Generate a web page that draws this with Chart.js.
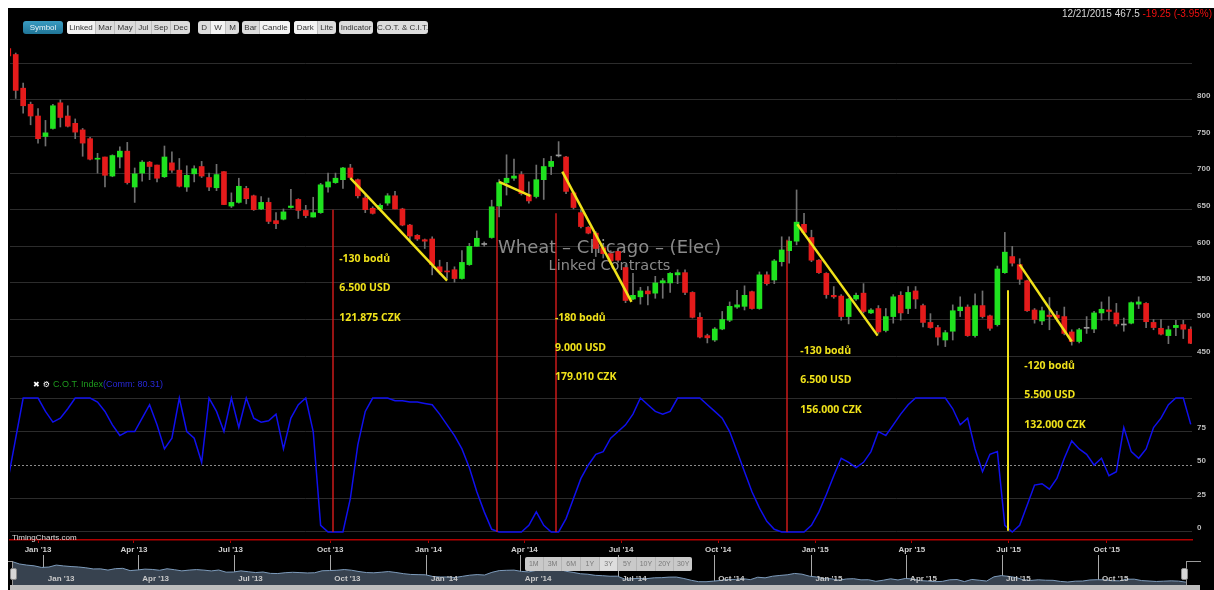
<!DOCTYPE html>
<html>
<head>
<meta charset="utf-8">
<title>Wheat - Chicago - (Elec)</title>
<script src="https://cdn.jsdelivr.net/npm/chart.js@4.4.1/dist/chart.umd.min.js"></script>
<style>
  body { margin: 8px; background: #fff; overflow: hidden; }
  #screen { position: absolute; left: 8px; top: 8px; width: 1206px; height: 582px; background: #000; overflow: hidden; font-family: "Liberation Sans", Arial, sans-serif; }
  canvas { position: absolute; left: 0; }
  #priceChart { top: 0; }
  #navChart { top: 547px; }
  .tb { position: absolute; top: 13px; height: 13px; display: flex; border-radius: 3px; overflow: hidden; background: #dcdcdc; }
  .tb span { flex: 1 1 auto; text-align: center; font-size: 8px; line-height: 13px; color: #333; border-left: 1px solid #bdbdbd; white-space: nowrap; }
  .tb span:first-child { border-left: none; }
  .tb span.on { background: #f3f3f3; }
  .tb.sym { background: linear-gradient(#3a9cc2, #1f7597); }
  .tb.sym span { color: #e8f4fa; }
  #info { position: absolute; right: 2px; top: 0; font-size: 10px; color: #d8d8d8; white-space: nowrap; }
  #info .chg { color: #f01010; }
  #legend { position: absolute; left: 25px; top: 371px; font-size: 9px; line-height: 10px; white-space: nowrap; }
  #legend .ic { color: #fff; font-family: "DejaVu Sans", sans-serif; font-size: 8px; margin-right: 3px; }
  #brand { position: absolute; left: 4px; top: 525px; font-size: 8px; color: #ddd; }
  #ranges { position: absolute; left: 517px; top: 549px; width: 167px; height: 14px; display: flex; background: #c9c9c9; border-radius: 2px; overflow: hidden; }
  #ranges span { flex: 1; text-align: center; font-size: 7px; line-height: 14px; color: #7a7a7a; border-left: 1px solid #b4b4b4; }
  #ranges span:first-child { border-left: none; }
  #ranges span.on { background: #dedede; }
  #scroll { position: absolute; left: 2px; top: 577px; width: 1190px; height: 5px; background: #bdbdbd; }
  .handle { position: absolute; top: 560px; width: 5px; height: 10px; background: #d6d6d6; border: 1px solid #8a8a8a; border-radius: 2px; }
  .navedge { position: absolute; top: 553px; height: 24px; border-top: 1px solid #9a9a9a; }
</style>
</head>
<body>
<div id="screen">
  <canvas id="priceChart" width="1206" height="548"></canvas>
  <canvas id="navChart" width="1206" height="30"></canvas>

  <div class="tb sym" style="left:15px;width:40px"><span>Symbol</span></div>
  <div class="tb" style="left:59px;width:123px"><span class="on">Linked</span><span>Mar</span><span>May</span><span>Jul</span><span>Sep</span><span>Dec</span></div>
  <div class="tb" style="left:190px;width:41px"><span>D</span><span class="on">W</span><span>M</span></div>
  <div class="tb" style="left:234px;width:48px"><span>Bar</span><span class="on">Candle</span></div>
  <div class="tb" style="left:286px;width:42px"><span class="on">Dark</span><span>Lite</span></div>
  <div class="tb" style="left:331px;width:34px"><span>Indicator</span></div>
  <div class="tb" style="left:369px;width:51px"><span>C.O.T. &amp; C.I.T.</span></div>

  <div id="info">12/21/2015 467.5 <span class="chg">-19.25 (-3.95%)</span></div>
  <div id="legend"><span class="ic">✖</span><span class="ic">⚙</span><span style="color:#1e9a1e">C.O.T. Index</span><span style="color:#2828d8">(Comm: 80.31)</span></div>
  <div id="brand">TimingCharts.com</div>

  <div id="ranges"><span>1M</span><span>3M</span><span>6M</span><span>1Y</span><span class="on">3Y</span><span>5Y</span><span>10Y</span><span>20Y</span><span>30Y</span></div>
  <div class="navedge" style="left:0;width:4px;border-right:1px solid #9a9a9a"></div>
  <div class="navedge" style="left:1178px;width:14px;border-left:1px solid #9a9a9a"></div>
  <div class="handle" style="left:2px"></div>
  <div class="handle" style="left:1173px"></div>
  <div id="scroll"></div>
</div>

<script>
// weekly candles, linked wheat contracts, Dec 2012 .. 12/21/2015
const opens = [870,862,816,794,778,750,761,796,778,768,759,747,719,722,696,722,730,681,700,715,
  711,695,714,704,681,699,709,694,680,702,655,660,679,669,651,660,635,637,653,664,
  649,640,646,681,687,691,707,691,666,652,651,659,669,651,629,615,609,610,572,566,
  568,556,575,600,602.5,612,655,687,693,698,670,668,691,709,723.5,722,673,646,626,618,
  598,590,593,571,528,531,539,536,550,550,561,564,537,503,478,472,487,499,517,518,
  538,515,561,554,579,594,607,630,612,581,563,533,532,504,528,536,509,515,485,504,
  533,515,539,519,496,489,472,484,512,517,478,519,505,493,564,586,575,553,513,498,
  506,506,504,483,470,488,487,509,513,509,492.5,495,521,522,496,488,478,489,493,486.75];
const highs = [873,864,823,797,788,772,794,800,792,774,761,749,727,722,725,736,742,707,717,716,
  711,737,729,720,710,710,716,700,712,702,673,693,682,670,668,666,646,651,678,665,
  656,667,686,700,700,708,712,692,670,654,658,672,675,652,630,616,610,613,581,578,
  572,594,604,621,606,663,691,725,719,702,688,711,720,723,743,723,675,650,627,620,
  602,594,596,575,563,544,545,559,556,564,568,568,538,509,480,489,511,524,540,546,
  539,565,565,582,613,613,677,645,622,582,564,545,534,529,536,549,515,519,515,534,
  538,545,545,521,508,492,485,520,531,520,535,539,506,573,619,600,583,554,515,517,
  530,511,517,486,488,504,511,524,531,522,502,524,531,523,500,500,491,499,499,490];
const lows = [857,802,782,766,741,737,760,763,763,747,723,718,700,681,695,707,685,660,689,691,
  688,694,701,681,675,688,694,676,676,657,653,659,658,649,650,631,624,636,652,638,
  639,640,645,674,686,679,693,666,646,644,650,656,651,628,609,608,597,561,562,556,
  551,555,574,600,600,611,640,670,690,670,659,666,664,698,722,672,651,625,617,586,
  584,576,578,523,527,521,520,529,529,537,549,534,502,475,468,470,486,497,515,513,
  514,514,547,549,573,577,602,616,579,563,529,529,499,494,526,509,508,481,483,495,
  499,508,515,490,488,465,463,472,504,477,476,502,485,491,563,573,548,511,495,493,
  486,498,479,465,468,481,482,499,499,491,484,494,515,489,486,479,467,478,474,467];
const closes = [860,813,792,778,747,755,792,776,764,756,741,719,720,697,724,730,687,699,715,709,
  693,722,704,682,697,706,696,681,698,657,660,682,665,650,660,634,631,647,655,649,
  642,646,684,688,693,707,694,669,650,645,656,669,651,629,614,610,607,575,565,565,
  556,578,600,611,602.5,654,687,693,696,672,662,691,709,716,723.5,675,653,627,618,597,
  590,580,581,526,533,539,535,550,553,563,564,537,503,476,475,487,500,518,520,533,
  515,561,549,580,595,607,633,619,581,564,534,531,504,528,533,511,513,483,504,531,
  509,537,528,496,489,476,482,512,517,478,519,504,488,569,592,577,555,512,500,512,
  504,502,481,470,486,488,509,514,511,494,492.5,523,524,497,489,480,486,492,486.75,467.5];

// C.O.T. Index, commercials (0-100), one value per candle
const cotComm = [40,70,100,100,100,90,82,85,92,100,100,100,97,90,80,72,75,75,85,95,
  80,62,70,100,75,70,52,100,90,75,100,78,100,85,82,83,88,62,85,95,
  100,75,5,0,0,0,25,65,90,100,100,100,98,98,97,97,96,95,88,80,
  72,62,48,30,15,2,0,0,0,0,5,15,5,0,0,10,25,40,50,58,
  60,70,75,80,88,100,95,90,88,90,100,100,100,100,95,90,85,75,60,45,
  30,18,8,2,0,0,0,0,5,15,28,42,55,52,48,52,60,75,72,80,
  88,95,100,100,100,100,100,92,80,85,62,45,58,60,5,0,5,20,35,36,
  32,40,55,68,62,58,50,55,42,45,78,60,55,62,78,85,95,100,100,80.31];

// time axis: quarter labels and the candle position where each quarter starts
const quarterLabels = ["Jan '13","Apr '13","Jul '13","Oct '13","Jan '14","Apr '14","Jul '14","Oct '14","Jan '15","Apr '15","Jul '15","Oct '15"];
const quarterPos = [4.0, 16.9, 29.9, 43.3, 56.5, 69.4, 82.4, 95.45, 108.5, 121.5, 134.5, 147.7];
const navQuarterPos = [4.3, 17.1, 30.1, 43.1, 56.2, 68.9, 82.1, 95.1, 108.3, 121.1, 134.1, 147.1];
const priceTicks = [450, 500, 550, 600, 650, 700, 750, 800, 850];
const cotTicks = [0, 25, 50, 75, 100];

// drawn annotations: [fromCandle, fromPrice, toCandle, toPrice]
const trendLines = [[46, 693, 59, 553], [66, 688, 70.2, 669], [74.5, 702, 83.8, 524], [106.1, 630, 116.9, 478], [136, 575, 143, 470]];
const markerCandles = [43.7, 65.7, 73.7, 104.7, 134.4];
const markerTops = [650, 654, 645, 609, 540];
const noteCandles = [44.5, 73.5, 106.5, 136.6];
const notePrices = [583, 502, 457, 436.5];
const noteTexts = [
  ['-130 bodů', '6.500 USD', '121.875 CZK'],
  ['-180 bodů', '9.000 USD', '179.010 CZK'],
  ['-130 bodů', '6.500 USD', '156.000 CZK'],
  ['-120 bodů', '5.500 USD', '132.000 CZK']
];

const UP = '#1fe21f', DOWN = '#e41b1b', FLAT = '#9a9a9a', YELLOW = '#f0e21a';

const annotationPlugin = {
    id: 'annotations',
    beforeDatasetsDraw(chart) {
        const { ctx, chartArea } = chart;
        const cot = chart.scales.cot;
        ctx.save();
        // watermark
        ctx.fillStyle = '#8a8a8a';
        ctx.textAlign = 'center';
        ctx.textBaseline = 'middle';
        ctx.font = '18px "DejaVu Sans"';
        ctx.fillText('Wheat – Chicago – (Elec)', 601.5, 240);
        ctx.font = '14.5px "DejaVu Sans"';
        ctx.fillText('Linked Contracts', 601.5, 258);
        // dashed mid line of the C.O.T. pane
        const y50 = Math.round(cot.getPixelForValue(50)) + 0.5;
        ctx.strokeStyle = '#8c8c8c';
        ctx.lineWidth = 1;
        ctx.setLineDash([2, 2]);
        ctx.beginPath();
        ctx.moveTo(chartArea.left, y50);
        ctx.lineTo(chartArea.right, y50);
        ctx.stroke();
        ctx.restore();
    },
    afterDatasetsDraw(chart) {
        const { ctx } = chart;
        const x = chart.scales.x, y = chart.scales.y, cot = chart.scales.cot;
        ctx.save();
        markerCandles.forEach((c, i) => {
            const last = i === markerCandles.length - 1;
            const px = Math.round(x.getPixelForValue(c));
            ctx.strokeStyle = last ? YELLOW : '#d81c1c';
            ctx.lineWidth = last ? 2 : 1.4;
            ctx.beginPath();
            ctx.moveTo(px, y.getPixelForValue(markerTops[i]));
            ctx.lineTo(px, cot.getPixelForValue(last ? 1 : 0));
            ctx.stroke();
        });
        ctx.strokeStyle = YELLOW;
        ctx.lineWidth = 2.5;
        trendLines.forEach(t => {
            ctx.beginPath();
            ctx.moveTo(x.getPixelForValue(t[0]), y.getPixelForValue(t[1]));
            ctx.lineTo(x.getPixelForValue(t[2]), y.getPixelForValue(t[3]));
            ctx.stroke();
        });
        ctx.fillStyle = YELLOW;
        ctx.font = 'bold 10.5px "Open Sans"';
        ctx.textAlign = 'left';
        ctx.textBaseline = 'middle';
        noteTexts.forEach((lines, i) => {
            const px = x.getPixelForValue(noteCandles[i]);
            const py = y.getPixelForValue(notePrices[i]);
            lines.forEach((s, j) => ctx.fillText(s, px, py + j * 29.5));
        });
        ctx.restore();
    }
};

function buildPriceChart() {
    const wicks = lows.map((l, i) => ({ x: i, y: [l, highs[i]] }));
    const bodies = opens.map((o, i) => ({ x: i, y: [o, closes[i]] }));
    const bodyColors = opens.map((o, i) => closes[i] > o ? UP : (closes[i] < o ? DOWN : FLAT));

    const ctx = document.getElementById('priceChart').getContext('2d');
    return new Chart(ctx, {
        type: 'bar',
        data: {
            datasets: [{
                data: wicks,
                backgroundColor: '#707070',
                barThickness: 1,
                grouped: false,
                order: 3
            }, {
                data: bodies,
                backgroundColor: bodyColors,
                barThickness: 5,
                minBarLength: 1,
                grouped: false,
                order: 2
            }, {
                type: 'line',
                data: cotComm.map((v, i) => ({ x: i, y: v })),
                yAxisID: 'cot',
                borderColor: '#1010ee',
                borderWidth: 1.5,
                pointRadius: 0,
                tension: 0,
                order: 1
            }]
        },
        options: {
            responsive: false,
            animation: false,
            layout: { padding: { top: 37, left: 2, right: 0, bottom: 0 } },
            plugins: { legend: { display: false }, tooltip: { enabled: false } },
            scales: {
                x: {
                    type: 'linear',
                    min: 0.23,
                    max: 159.17,
                    offset: false,
                    afterBuildTicks: scale => { scale.ticks = quarterPos.map(v => ({ value: v })); },
                    afterFit: scale => { scale.height = 16; },
                    grid: { offset: false, drawOnChartArea: false, color: '#b00000', tickLength: 3 },
                    border: { color: '#b00000', width: 1.5 },
                    ticks: {
                        autoSkip: false,
                        maxRotation: 0,
                        padding: 2,
                        color: '#cfcfcf',
                        font: { size: 8, weight: 'bold', family: 'Liberation Sans' },
                        callback: (v, i) => quarterLabels[i]
                    }
                },
                y: {
                    position: 'right',
                    stack: 'panes',
                    stackWeight: 345,
                    min: 403.7,
                    max: 875,
                    afterBuildTicks: scale => { scale.ticks = priceTicks.map(v => ({ value: v })); },
                    afterFit: scale => { scale.width = 22; },
                    grid: { color: '#2c2c2c', drawTicks: false },
                    border: { display: false },
                    ticks: {
                        padding: 5,
                        labelOffset: -4,
                        color: '#bdbdbd',
                        font: { size: 8, weight: 'bold', family: 'Liberation Sans' },
                        callback: v => v >= 850 ? '' : v
                    }
                },
                cot: {
                    position: 'right',
                    stack: 'panes',
                    stackWeight: 150,
                    min: -6,
                    max: 106,
                    afterBuildTicks: scale => { scale.ticks = cotTicks.map(v => ({ value: v })); },
                    afterFit: scale => { scale.width = 22; },
                    grid: {
                        color: c => c.tick && c.tick.value === 50 ? 'rgba(0,0,0,0)' : '#2c2c2c',
                        drawTicks: false
                    },
                    border: { display: false },
                    ticks: {
                        padding: 5,
                        labelOffset: -4,
                        color: '#bdbdbd',
                        font: { size: 8, weight: 'bold', family: 'Liberation Sans' },
                        callback: v => v === 100 ? '' : v
                    }
                }
            }
        },
        plugins: [annotationPlugin]
    });
}

const navLabelPlugin = {
    id: 'navLabels',
    afterDraw(chart) {
        const { ctx } = chart;
        const x = chart.scales.x;
        ctx.save();
        ctx.fillStyle = '#c8c8c8';
        ctx.font = 'bold 8px "Liberation Sans"';
        ctx.textBaseline = 'middle';
        navQuarterPos.forEach((p, i) => ctx.fillText(quarterLabels[i], x.getPixelForValue(p) + 4, 24));
        ctx.restore();
    }
};

function buildNavigator() {
    const ctx = document.getElementById('navChart').getContext('2d');
    return new Chart(ctx, {
        type: 'line',
        data: {
            datasets: [{
                data: closes.map((c, i) => ({ x: i, y: c })),
                fill: 'start',
                backgroundColor: '#37424f',
                borderColor: '#7d9bbb',
                borderWidth: 1,
                pointRadius: 0,
                tension: 0
            }]
        },
        options: {
            responsive: false,
            animation: false,
            layout: { padding: 0 },
            plugins: { legend: { display: false }, tooltip: { enabled: false } },
            scales: {
                x: {
                    type: 'linear',
                    min: -0.54,
                    max: 162.8,
                    afterBuildTicks: scale => { scale.ticks = navQuarterPos.map(v => ({ value: v })); },
                    afterFit: scale => { scale.height = 0; },
                    grid: { color: 'rgba(225,225,225,0.75)', drawTicks: false },
                    border: { display: false },
                    ticks: { display: false }
                },
                y: { display: false, min: 413, max: 984 }
            }
        },
        plugins: [navLabelPlugin]
    });
}

buildPriceChart();
buildNavigator();
</script>
</body>
</html>
